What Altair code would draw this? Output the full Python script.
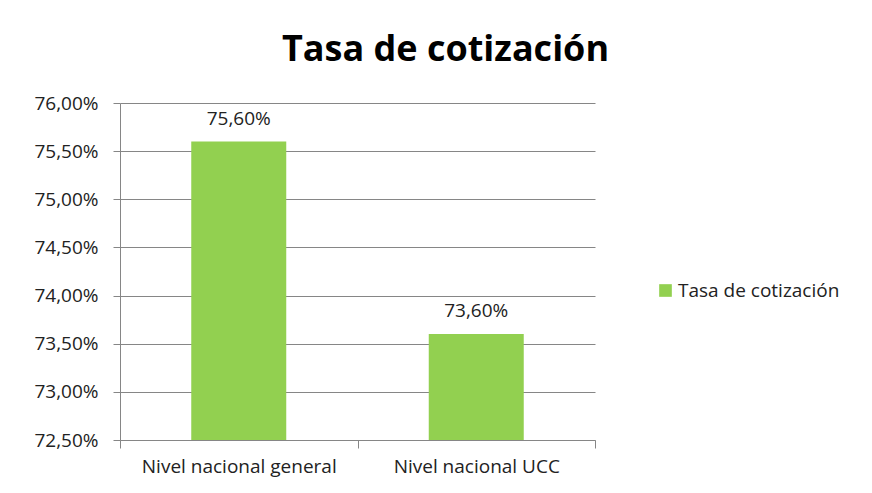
import altair as alt
import pandas as pd

categories = ["Nivel nacional general", "Nivel nacional UCC"]
values = [0.756, 0.736]
labels = ["75,60%", "73,60%"]
series = "Tasa de cotización"

df = pd.DataFrame({"cat": categories, "val": values, "lab": labels, "serie": [series] * 2})

FONT = "Open Sans"
GRID = "#868686"
FS = 19

x = alt.X("cat:N", sort=categories, title=None,
          scale=alt.Scale(paddingInner=0, paddingOuter=0),
          axis=alt.Axis(labelAngle=0, tickBand="extent", tickSize=8, tickColor=GRID,
                        domainColor=GRID, labelPadding=9, labelFontSize=FS, labelLimit=0,
                        labelColor="#222", labelFont=FONT, grid=False))

bars = alt.Chart(df).mark_bar(width=alt.RelativeBandSize(0.4), color="#92D050", clip=True).encode(
    x=x,
    y=alt.Y("val:Q", title=None,
            scale=alt.Scale(domain=[0.725, 0.76], nice=False, zero=False),
            axis=alt.Axis(values=[0.725, 0.73, 0.735, 0.74, 0.745, 0.75, 0.755, 0.76],
                          format=".2%", labelExpr="replace(datum.label, '.', ',')",
                          tickSize=7, tickColor=GRID, domainColor=GRID, gridColor=GRID,
                          labelPadding=15, labelFontSize=FS, labelColor="#222",
                          labelFont=FONT)),
    fill=alt.Fill("serie:N", scale=alt.Scale(range=["#92D050"]),
                  legend=alt.Legend(title=None, orient="none", legendX=536, legendY=178,
                                    symbolType="square", symbolSize=160, symbolStrokeWidth=0,
                                    labelFontSize=FS, labelFont=FONT, labelColor="#222",
                                    labelLimit=0, labelOffset=3)),
)

text = alt.Chart(df).mark_text(dy=-23, fontSize=FS, font=FONT, color="#222").encode(
    x=alt.X("cat:N", sort=categories),
    y="val:Q",
    text="lab:N",
)

chart = (bars + text).properties(
    width=475, height=337,
    title=alt.TitleParams("Tasa de cotización", fontSize=36, font=FONT, fontWeight="bold",
                          color="#000", anchor="middle", dx=88, offset=25),
    autosize=alt.AutoSizeParams(type="none"),
    padding={"left": 112, "top": 95, "right": 269, "bottom": 45},
).configure_view(stroke=None)

chart.save("out.html", embed_options={"renderer": "svg", "actions": False})
